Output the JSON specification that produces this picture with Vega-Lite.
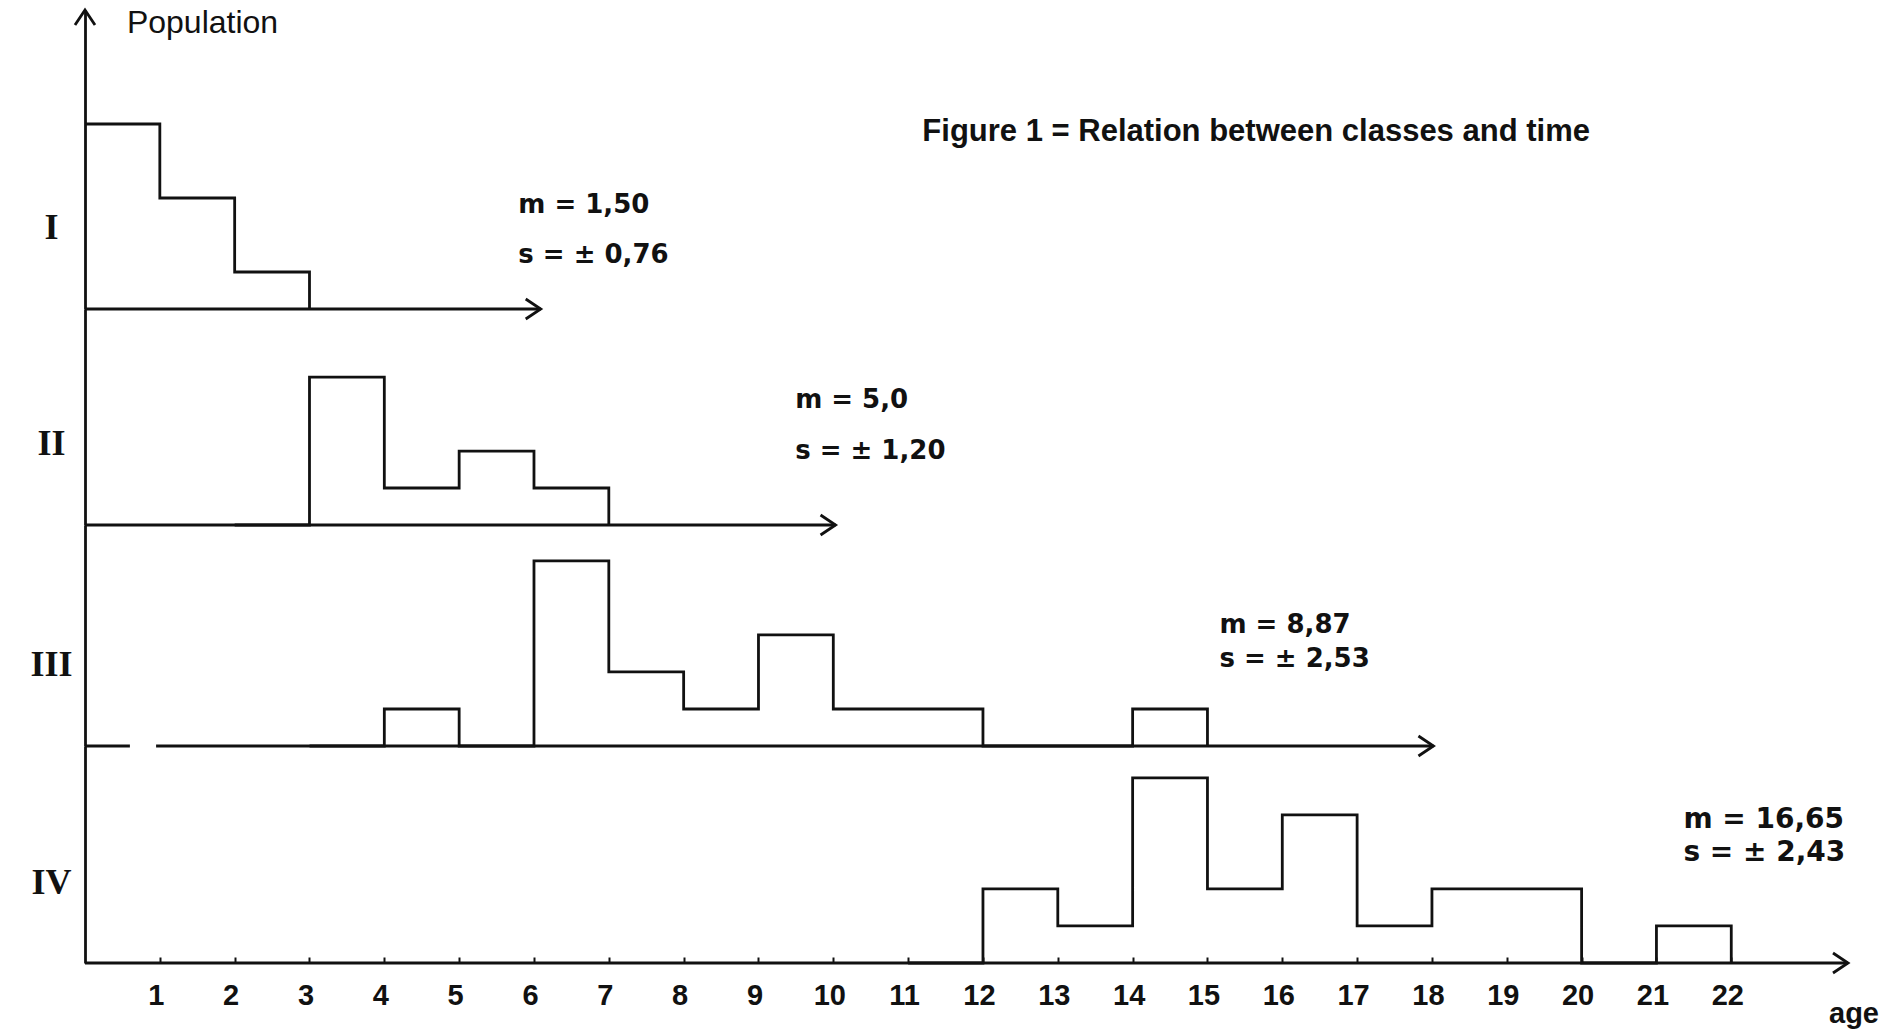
{
  "$schema": "https://vega.github.io/schema/vega-lite/v6.json",
  "autosize": {"type": "pad"},
  "padding": {"left": 29, "top": 4, "right": 5, "bottom": 5},
  "background": "white",
  "bounds": "flush",
  "spacing": 0,
  "config": {
    "view": {"stroke": null},
    "font": "Liberation Sans",
    "axis": {"grid": false},
    "text": {"font": "DejaVu Sans", "fontWeight": "bold", "fontSize": 26, "color": "#111", "align": "left", "baseline": "middle"},
    "rule": {"color": "#111", "strokeWidth": 2.8},
    "point": {"color": "#111", "strokeWidth": 2.8, "filled": false, "opacity": 1}
  },
  "datasets": {
    "bins": [
      {"class": "I", "start": 0, "end": 1, "count": 5},
      {"class": "I", "start": 1, "end": 2, "count": 3},
      {"class": "I", "start": 2, "end": 3, "count": 1},
      {"class": "I", "start": 3, "end": 4, "count": 0},
      {"class": "II", "start": 2, "end": 3, "count": 0},
      {"class": "II", "start": 3, "end": 4, "count": 4},
      {"class": "II", "start": 4, "end": 5, "count": 1},
      {"class": "II", "start": 5, "end": 6, "count": 2},
      {"class": "II", "start": 6, "end": 7, "count": 1},
      {"class": "II", "start": 7, "end": 8, "count": 0},
      {"class": "III", "start": 3, "end": 4, "count": 0},
      {"class": "III", "start": 4, "end": 5, "count": 1},
      {"class": "III", "start": 5, "end": 6, "count": 0},
      {"class": "III", "start": 6, "end": 7, "count": 5},
      {"class": "III", "start": 7, "end": 8, "count": 2},
      {"class": "III", "start": 8, "end": 9, "count": 1},
      {"class": "III", "start": 9, "end": 10, "count": 3},
      {"class": "III", "start": 10, "end": 11, "count": 1},
      {"class": "III", "start": 11, "end": 12, "count": 1},
      {"class": "III", "start": 12, "end": 13, "count": 0},
      {"class": "III", "start": 13, "end": 14, "count": 0},
      {"class": "III", "start": 14, "end": 15, "count": 1},
      {"class": "III", "start": 15, "end": 16, "count": 0},
      {"class": "IV", "start": 11, "end": 12, "count": 0},
      {"class": "IV", "start": 12, "end": 13, "count": 2},
      {"class": "IV", "start": 13, "end": 14, "count": 1},
      {"class": "IV", "start": 14, "end": 15, "count": 5},
      {"class": "IV", "start": 15, "end": 16, "count": 2},
      {"class": "IV", "start": 16, "end": 17, "count": 4},
      {"class": "IV", "start": 17, "end": 18, "count": 1},
      {"class": "IV", "start": 18, "end": 19, "count": 2},
      {"class": "IV", "start": 19, "end": 20, "count": 2},
      {"class": "IV", "start": 20, "end": 21, "count": 0},
      {"class": "IV", "start": 21, "end": 22, "count": 1},
      {"class": "IV", "start": 22, "end": 23, "count": 0}
    ]
  },
  "vconcat": [
    {
      "width": 1766,
      "height": 299,
      "layer": [
        {
          "data": {"name": "bins"},
          "transform": [{"filter": "datum.class === 'I'"}],
          "mark": {"type": "line", "interpolate": "step-after", "color": "#111", "strokeWidth": 2.8},
          "encoding": {
            "x": {"field": "start", "type": "quantitative", "scale": {"domain": [0, 23.6], "nice": false, "zero": false}, "axis": null},
            "y": {"field": "count", "type": "quantitative", "scale": {"domain": [0, 8.08], "nice": false},
              "axis": {"title": "I", "labels": false, "ticks": false, "domain": true, "domainColor": "#111", "domainWidth": 2.8,
                "titleAngle": 0, "titleFont": "Liberation Serif", "titleFontSize": 36, "titleFontWeight": "bold", "titleColor": "#111",
                "titleX": -34, "titleY": 217, "titleAlign": "center", "titleBaseline": "middle"}}
          }
        },
        {
          "data": {"values": [{}]},
          "mark": {"type": "rule"},
          "encoding": {"x": {"datum": 0}, "x2": {"datum": 6.09}, "y": {"datum": 0}}
        },
        {
          "data": {"values": [{}]},
          "mark": {"type": "point", "shape": "M-1.5,-1L0,0L-1.5,1", "size": 400},
          "encoding": {"x": {"datum": 6.09}, "y": {"datum": 0}}
        },
        {
          "data": {"values": [{}]},
          "mark": {"type": "point", "shape": "M-1,1.5L0,0L1,1.5", "size": 400},
          "encoding": {"x": {"datum": 0}, "y": {"datum": 8.08}}
        },
        {
          "data": {"values": [{}]},
          "mark": {"type": "text", "text": "Population", "font": "Liberation Sans", "fontWeight": "normal", "fontSize": 32},
          "encoding": {"x": {"datum": 0.56}, "y": {"datum": 7.73}}
        },
        {
          "data": {"values": [{}]},
          "mark": {"type": "text", "text": "Figure 1 = Relation between classes and time", "font": "Liberation Sans", "fontSize": 31},
          "encoding": {"x": {"datum": 11.19}, "y": {"datum": 4.78}}
        },
        {
          "data": {"values": [{}]},
          "mark": {"type": "text", "text": "m = 1,50"},
          "encoding": {"x": {"datum": 5.79}, "y": {"datum": 2.81}}
        },
        {
          "data": {"values": [{}]},
          "mark": {"type": "text", "text": "s = ± 0,76"},
          "encoding": {"x": {"datum": 5.79}, "y": {"datum": 1.46}}
        }
      ]
    },
    {
      "width": 1766,
      "height": 216,
      "layer": [
        {
          "data": {"name": "bins"},
          "transform": [{"filter": "datum.class === 'II'"}],
          "mark": {"type": "line", "interpolate": "step-after", "color": "#111", "strokeWidth": 2.8},
          "encoding": {
            "x": {"field": "start", "type": "quantitative", "scale": {"domain": [0, 23.6], "nice": false, "zero": false}, "axis": null},
            "y": {"field": "count", "type": "quantitative", "scale": {"domain": [0, 5.84], "nice": false},
              "axis": {"title": "II", "labels": false, "ticks": false, "domain": true, "domainColor": "#111", "domainWidth": 2.8,
                "titleAngle": 0, "titleFont": "Liberation Serif", "titleFontSize": 36, "titleFontWeight": "bold", "titleColor": "#111",
                "titleX": -34, "titleY": 134, "titleAlign": "center", "titleBaseline": "middle"}}
          }
        },
        {
          "data": {"values": [{}]},
          "mark": {"type": "rule"},
          "encoding": {"x": {"datum": 0}, "x2": {"datum": 10.03}, "y": {"datum": 0}}
        },
        {
          "data": {"values": [{}]},
          "mark": {"type": "point", "shape": "M-1.5,-1L0,0L-1.5,1", "size": 400},
          "encoding": {"x": {"datum": 10.03}, "y": {"datum": 0}}
        },
        {
          "data": {"values": [{}]},
          "mark": {"type": "text", "text": "m = 5,0"},
          "encoding": {"x": {"datum": 9.49}, "y": {"datum": 3.38}}
        },
        {
          "data": {"values": [{}]},
          "mark": {"type": "text", "text": "s = ± 1,20"},
          "encoding": {"x": {"datum": 9.49}, "y": {"datum": 2.0}}
        }
      ]
    },
    {
      "width": 1766,
      "height": 221,
      "layer": [
        {
          "data": {"name": "bins"},
          "transform": [{"filter": "datum.class === 'III'"}],
          "mark": {"type": "line", "interpolate": "step-after", "color": "#111", "strokeWidth": 2.8},
          "encoding": {
            "x": {"field": "start", "type": "quantitative", "scale": {"domain": [0, 23.6], "nice": false, "zero": false}, "axis": null},
            "y": {"field": "count", "type": "quantitative", "scale": {"domain": [0, 5.97], "nice": false},
              "axis": {"title": "III", "labels": false, "ticks": false, "domain": true, "domainColor": "#111", "domainWidth": 2.8,
                "titleAngle": 0, "titleFont": "Liberation Serif", "titleFontSize": 36, "titleFontWeight": "bold", "titleColor": "#111",
                "titleX": -34, "titleY": 139, "titleAlign": "center", "titleBaseline": "middle"}}
          }
        },
        {
          "data": {"values": [{}]},
          "mark": {"type": "rule"},
          "encoding": {"x": {"datum": 0}, "x2": {"datum": 0.6}, "y": {"datum": 0}}
        },
        {
          "data": {"values": [{}]},
          "mark": {"type": "rule"},
          "encoding": {"x": {"datum": 0.95}, "x2": {"datum": 18.02}, "y": {"datum": 0}}
        },
        {
          "data": {"values": [{}]},
          "mark": {"type": "point", "shape": "M-1.5,-1L0,0L-1.5,1", "size": 400},
          "encoding": {"x": {"datum": 18.02}, "y": {"datum": 0}}
        },
        {
          "data": {"values": [{}]},
          "mark": {"type": "text", "text": "m = 8,87"},
          "encoding": {"x": {"datum": 15.16}, "y": {"datum": 3.27}}
        },
        {
          "data": {"values": [{}]},
          "mark": {"type": "text", "text": "s = ± 2,53"},
          "encoding": {"x": {"datum": 15.16}, "y": {"datum": 2.35}}
        }
      ]
    },
    {
      "width": 1766,
      "height": 217,
      "layer": [
        {
          "data": {"name": "bins"},
          "transform": [{"filter": "datum.class === 'IV'"}],
          "mark": {"type": "line", "interpolate": "step-after", "color": "#111", "strokeWidth": 2.8},
          "encoding": {
            "x": {"field": "start", "type": "quantitative", "scale": {"domain": [0, 23.6], "nice": false, "zero": false},
              "axis": {"values": [1,2,3,4,5,6,7,8,9,10,11,12,13,14,15,16,17,18,19,20,21,22], "format": "d", "title": null,
                "domain": false, "ticks": true, "tickSize": -6, "tickWidth": 2, "tickColor": "#111",
                "labelFont": "Liberation Sans", "labelFontWeight": "bold", "labelFontSize": 29, "labelColor": "#111",
                "labelPadding": 24, "labelOffset": -4, "labelFlush": false, "labelOverlap": false}},
            "y": {"field": "count", "type": "quantitative", "scale": {"domain": [0, 5.86], "nice": false},
              "axis": {"title": "IV", "labels": false, "ticks": false, "domain": true, "domainColor": "#111", "domainWidth": 2.8,
                "titleAngle": 0, "titleFont": "Liberation Serif", "titleFontSize": 36, "titleFontWeight": "bold", "titleColor": "#111",
                "titleX": -34, "titleY": 136, "titleAlign": "center", "titleBaseline": "middle"}}
          }
        },
        {
          "data": {"values": [{}]},
          "mark": {"type": "rule"},
          "encoding": {"x": {"datum": 0}, "x2": {"datum": 23.56}, "y": {"datum": 0}}
        },
        {
          "data": {"values": [{}]},
          "mark": {"type": "point", "shape": "M-1.5,-1L0,0L-1.5,1", "size": 400},
          "encoding": {"x": {"datum": 23.56}, "y": {"datum": 0}}
        },
        {
          "data": {"values": [{}]},
          "mark": {"type": "text", "text": "m = 16,65", "fontSize": 28},
          "encoding": {"x": {"datum": 21.36}, "y": {"datum": 3.86}}
        },
        {
          "data": {"values": [{}]},
          "mark": {"type": "text", "text": "s = ± 2,43", "fontSize": 28},
          "encoding": {"x": {"datum": 21.36}, "y": {"datum": 2.97}}
        },
        {
          "data": {"values": [{}]},
          "mark": {"type": "text", "text": "age", "align": "center", "font": "Liberation Sans", "fontSize": 29},
          "encoding": {"x": {"datum": 23.64}, "y": {"datum": -1.38}}
        }
      ]
    }
  ]
}
